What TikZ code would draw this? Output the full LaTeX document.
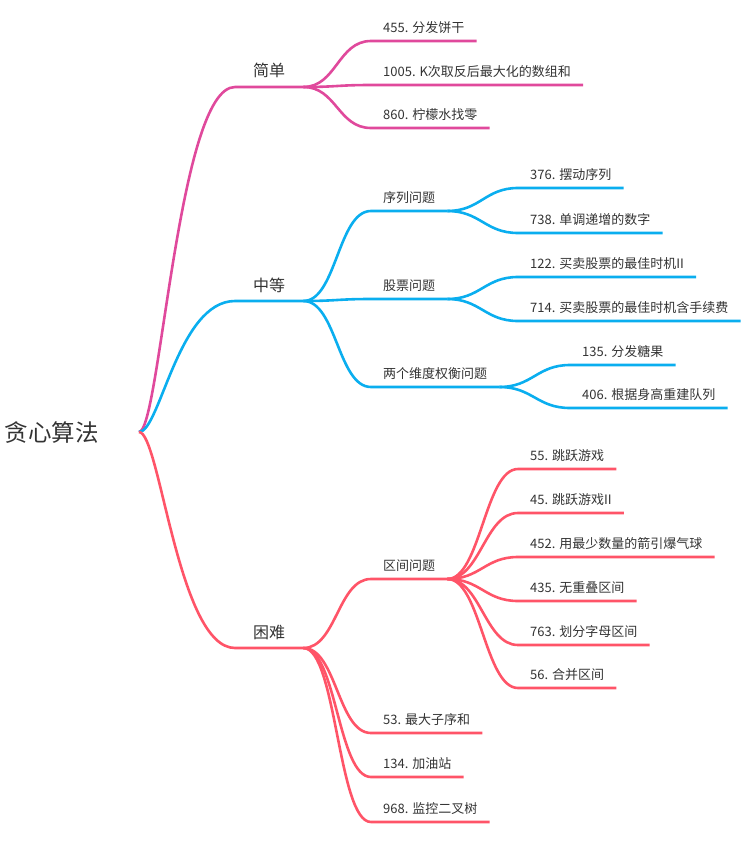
\documentclass[tikz,border=0pt]{standalone}
\usepackage{fontspec}
\setmainfont{Noto Sans CJK SC}
\definecolor{easyc}{HTML}{E0499C}
\definecolor{midc}{HTML}{0AAEEF}
\definecolor{hardc}{HTML}{FF5468}
\definecolor{txtc}{HTML}{333333}

\begin{document}
\begin{tikzpicture}[
        x=1pt, y=-1pt,
        root/.style={
            font=\fontsize{23.5}{26}\selectfont, text=txtc, inner sep=0pt
        },
        topic/.style={
            anchor=south west, font=\fontsize{16}{19}\selectfont, text=txtc,
            inner xsep=18pt, inner ysep=9.8pt, text depth=0pt
        },
        sub/.style={
            anchor=south west, font=\fontsize{13}{16}\selectfont, text=txtc,
            inner xsep=12pt, inner ysep=8pt, text depth=0pt
        },
        leaf/.style={
            anchor=south west, font=\fontsize{13}{16}\selectfont, text=txtc,
            inner xsep=12pt, inner ysep=8pt, text depth=0pt
        },
        br_easy/.style={draw=easyc, line width=2.6pt},
        br_mid/.style={draw=midc, line width=2.6pt},
        br_hard/.style={draw=hardc, line width=2.6pt},
        trunk/.style={to path={.. controls +(21,0) and +(-57,0) .. (\tikztotarget.south west) -- (\tikztotarget.south east)}},
        twig/.style={to path={.. controls +(33,0) and +(-33,0) .. (\tikztotarget.south west) -- (\tikztotarget.south east)}}
    ]
    \useasboundingbox (0,0) rectangle (744,845);

    % Root
    \node[root] (root) at (52,433) {贪心算法};
    \coordinate (hub) at (139,432);

    % Topics
    \node[topic] (easy) at (235,87) {简单};
    \node[topic] (mid) at (235,301) {中等};
    \node[topic] (hard) at (235,648) {困难};

    % Sub topics
    \node[sub] (seq) at (371,211) {序列问题};
    \node[sub] (stock) at (371,299) {股票问题};
    \node[sub] (twodim) at (371,387) {两个维度权衡问题};
    \node[sub] (range) at (371,579) {区间问题};

    % Leaves: easy
    \node[leaf] (e1) at (371,41) {455. 分发饼干};
    \node[leaf] (e2) at (371,85) {1005. K次取反后最大化的数组和};
    \node[leaf] (e3) at (371,128) {860. 柠檬水找零};

    % Leaves: mid
    \node[leaf] (m1) at (518,188) {376. 摆动序列};
    \node[leaf] (m2) at (518,233) {738. 单调递增的数字};
    \node[leaf] (m3) at (518,277) {122. 买卖股票的最佳时机II};
    \node[leaf] (m4) at (518,321) {714. 买卖股票的最佳时机含手续费};
    \node[leaf] (m5) at (570,365) {135. 分发糖果};
    \node[leaf] (m6) at (570,408) {406. 根据身高重建队列};

    % Leaves: hard
    \node[leaf] (h1) at (518,469) {55. 跳跃游戏};
    \node[leaf] (h2) at (518,513) {45. 跳跃游戏II};
    \node[leaf] (h3) at (518,557) {452. 用最少数量的箭引爆气球};
    \node[leaf] (h4) at (518,601) {435. 无重叠区间};
    \node[leaf] (h5) at (518,645) {763. 划分字母区间};
    \node[leaf] (h6) at (518,688) {56. 合并区间};
    \node[leaf] (h7) at (371,733) {53. 最大子序和};
    \node[leaf] (h8) at (371,777) {134. 加油站};
    \node[leaf] (h9) at (371,822) {968. 监控二叉树};

    % Branches: hub -> topics
    \draw[br_easy] (hub) to[trunk] (easy);
    \draw[br_mid] (hub) to[trunk] (mid);
    \draw[br_hard] (hub) to[trunk] (hard);

    % Branches: easy
    \foreach \n in {e1,e2,e3}
        \draw[br_easy] (easy.south east) to[twig] (\n);

    % Branches: mid
    \foreach \n in {seq,stock,twodim}
        \draw[br_mid] (mid.south east) to[twig] (\n);
    \foreach \n in {m1,m2}
        \draw[br_mid] (seq.south east) to[twig] (\n);
    \foreach \n in {m3,m4}
        \draw[br_mid] (stock.south east) to[twig] (\n);
    \foreach \n in {m5,m6}
        \draw[br_mid] (twodim.south east) to[twig] (\n);

    % Branches: hard
    \foreach \n in {range,h7,h8,h9}
        \draw[br_hard] (hard.south east) to[twig] (\n);
    \foreach \n in {h1,h2,h3,h4,h5,h6}
        \draw[br_hard] (range.south east) to[twig] (\n);
\end{tikzpicture}
\end{document}
